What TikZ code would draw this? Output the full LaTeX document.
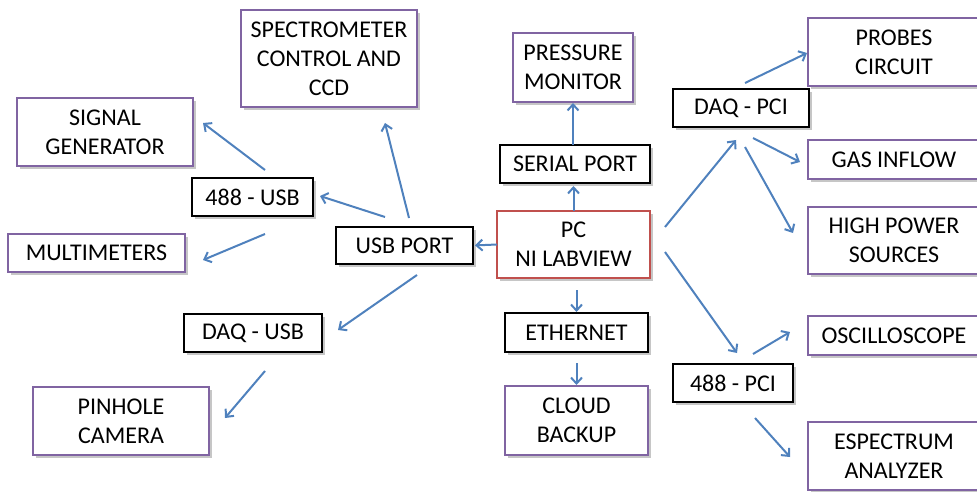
\documentclass[tikz,border=0pt]{standalone}
\usepackage{fontspec}
\setmainfont{Carlito}
\usetikzlibrary{positioning,arrows.meta,shadows}
\definecolor{linkblue}{HTML}{4F81BD}
\definecolor{devpurple}{HTML}{8064A2}
\definecolor{pcred}{HTML}{C0504D}

\begin{document}
\begin{tikzpicture}[x=1pt, y=-1pt,
      box/.style={rectangle, draw, line width=1.8pt, fill=white, align=center, inner sep=0pt, outer sep=0pt,
        font=\fontsize{24}{29}\selectfont, drop shadow={shadow xshift=3pt, shadow yshift=-3pt, opacity=0.45}},
      device/.style={box, draw=devpurple},
      port/.style={box, draw=black},
      link/.style={draw=linkblue, line width=2pt, -{Straight Barb[length=6pt,width=11pt]}}
      ]
      \path[use as bounding box, clip] (0,0) rectangle (977,492);
      % instruments, left side
      \node[device, minimum width=176, minimum height=97] (SPEC) at (329,58.5) {SPECTROMETER\\CONTROL AND\\CCD};
      \node[device, minimum width=176, minimum height=68] (SIG) at (105,132) {SIGNAL\\GENERATOR};
      \node[port, minimum width=121, minimum height=38] (GUSB) at (252.5,197) {488 - USB};
      \node[device, minimum width=177, minimum height=38] (MULT) at (96.5,253) {MULTIMETERS};
      \node[port, minimum width=137, minimum height=37] (USBP) at (404.5,245.5) {USB PORT};
      \node[port, minimum width=138, minimum height=38] (DUSB) at (253,333) {DAQ - USB};
      \node[device, minimum width=176, minimum height=68] (PIN) at (121,421) {PINHOLE\\CAMERA};
      % central column
      \node[device, minimum width=120, minimum height=69] (PRES) at (573,67.5) {PRESSURE\\MONITOR};
      \node[port, minimum width=150, minimum height=38] (SER) at (575,164) {SERIAL PORT};
      \node[box, draw=pcred, minimum width=153, minimum height=67] (PC) at (573.5,244.5) {PC\\NI LABVIEW};
      \node[port, minimum width=143, minimum height=39] (ETH) at (576.5,332.5) {ETHERNET};
      \node[device, minimum width=143, minimum height=69] (CLOUD) at (576.5,420.5) {CLOUD\\BACKUP};
      % PCI cards, right side
      \node[port, minimum width=136, minimum height=38] (DPCI) at (741,108) {DAQ - PCI};
      \node[device, minimum width=172, minimum height=68] (PROB) at (894,52) {PROBES\\CIRCUIT};
      \node[device, minimum width=172, minimum height=39] (GAS) at (894,159.5) {GAS INFLOW};
      \node[device, minimum width=172, minimum height=67] (HPS) at (894,240.5) {HIGH POWER\\SOURCES};
      \node[device, minimum width=172, minimum height=39] (OSC) at (894,335.5) {OSCILLOSCOPE};
      \node[port, minimum width=120, minimum height=38] (GPCI) at (733,383) {488 - PCI};
      \node[device, minimum width=172, minimum height=68] (ESA) at (894,456) {ESPECTRUM\\ANALYZER};
      % links
      \draw[link] ([shift={(4.5,-9)}]USBP.north) -- ([shift={(56,16)}]SPEC.south);
      \draw[link] ([shift={(-19.5,-10)}]USBP.north) -- ([shift={(7,-1)}]GUSB.east);
      \draw[link] ([shift={(12.5,-8)}]GUSB.north) -- ([shift={(10,-9)}]SIG.east);
      \draw[link] ([shift={(12.5,18)}]GUSB.south) -- ([shift={(18,7)}]MULT.east);
      \draw[link] ([shift={(12.5,11)}]USBP.south) -- ([shift={(16,-3)}]DUSB.east);
      \draw[link] ([shift={(12,19)}]DUSB.south) -- ([shift={(16,-3)}]PIN.east);
      \draw[link, shorten >=2pt] (PC.west) -- (USBP.east);
      \draw[link, shorten >=3pt] (PC.north) -- (PC.north |- SER.south);
      \draw[link, shorten >=1pt] (PRES.south |- SER.north) -- (PRES.south);
      \draw[link, shorten <=12pt, shorten >=1pt] (ETH.north |- PC.south) -- (ETH.north);
      \draw[link, shorten <=11pt, shorten >=1pt] (ETH.south) -- (CLOUD.north);
      \draw[link] ([shift={(15,-17.5)}]PC.east) -- ([shift={(-5,13)}]DPCI.south);
      \draw[link] ([shift={(4,-6)}]DPCI.north) -- ([shift={(-1,1)}]PROB.west);
      \draw[link] ([shift={(12,11)}]DPCI.south) -- ([shift={(-8,2.5)}]GAS.west);
      \draw[link] ([shift={(4,20)}]DPCI.south) -- ([shift={(-15,-7.5)}]HPS.west);
      \draw[link] ([shift={(15,7.5)}]PC.east) -- ([shift={(4,-11)}]GPCI.north);
      \draw[link] ([shift={(20,-10)}]GPCI.north) -- ([shift={(-18,-3.5)}]OSC.west);
      \draw[link] ([shift={(22,16)}]GPCI.south) -- ([shift={(-18,1)}]ESA.west);
\end{tikzpicture}
\end{document}
